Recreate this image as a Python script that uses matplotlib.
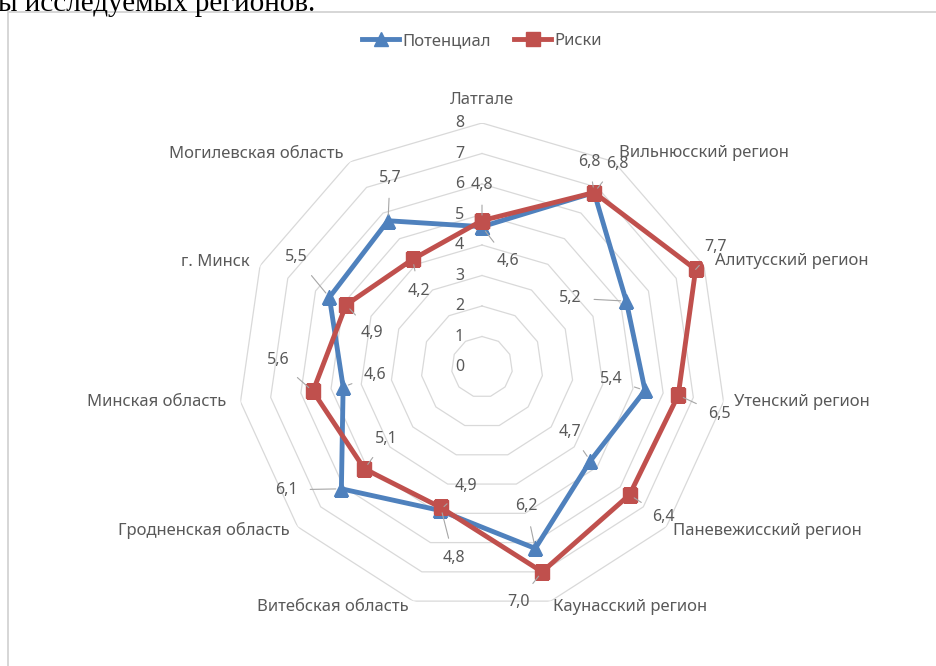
import numpy as np
import matplotlib
matplotlib.use("Agg")
import matplotlib.pyplot as plt
from matplotlib.patches import Rectangle
from matplotlib.lines import Line2D

plt.rcParams['font.family'] = ['Noto Sans', 'DejaVu Sans']

categories = ["Латгале", "Вильнюсский регион", "Алитусский регион", "Утенский регион",
              "Паневежисский регион", "Каунасский регион", "Витебская область",
              "Гродненская область", "Минская область", "г. Минск", "Могилевская область"]
potential = [4.6, 6.8, 5.2, 5.4, 4.7, 6.2, 4.9, 6.1, 4.6, 5.5, 5.7]
risks = [4.8, 6.8, 7.7, 6.5, 6.4, 7.0, 4.8, 5.1, 5.6, 4.9, 4.2]
levels = [0, 1, 2, 3, 4, 5, 6, 7, 8]

BLUE = '#4F81BD'
RED = '#C0504D'
TXT = '#595959'
GRID = '#d9d9d9'

# label offsets in pixels (dx, dy with y down)
pot_off = [(26, 34), (23, -29), (-56, -3), (-34, -11), (-20, -29), (-9, -42),
           (26, -24), (-55, 1), (32, -12), (-33, -40), (2, -43)]
risk_off = [(0, -36), (-5, -31), (20, -22), (41, 19), (34, 22), (-24, 30),
            (13, 51), (22, -30), (-35, -31), (26, 28), (6, 32)]
cat_off = [(0, -23, 'center'), (5, -9, 'left'), (11, -5, 'left'), (10, 0, 'left'),
           (7, 4, 'left'), (2, 6, 'left'), (-5, 6, 'right'), (-8, 4, 'right'),
           (-14, 0, 'right'), (-10, -4, 'right'), (-7, -8, 'right')]

W, H = 937, 666
fig = plt.figure(figsize=(W / 100, H / 100), dpi=100)
cx, cy, R = 482, 367, 244
ax = fig.add_axes([(cx - R) / W, (H - cy - R) / H, 2 * R / W, 2 * R / H], projection='polar')
ax.set_theta_zero_location('N')
ax.set_theta_direction(-1)
ax.set_ylim(0, 8)
ax.grid(False)
ax.set_xticks([])
ax.set_yticks([])
ax.spines['polar'].set_visible(False)
ax.patch.set_alpha(0)

n = len(categories)
theta = np.arange(n) * 2 * np.pi / n
tc = np.append(theta, theta[0])

# polygon gridlines
for lv in levels[1:]:
    ax.plot(tc, [lv] * (n + 1), color=GRID, lw=0.9, zorder=1)

px2pt = 0.72
for lv in levels:
    ax.annotate(str(lv), (0, lv), xytext=(-18 * px2pt, 0), textcoords='offset points',
                ha='right', va='center', fontsize=11.5, color=TXT)

ax.plot(tc, potential + [potential[0]], color=BLUE, lw=3.5, marker='^', ms=10, zorder=3)
ax.plot(tc, risks + [risks[0]], color=RED, lw=3.5, marker='s', ms=9.5, zorder=4)


def fmt(v):
    return f"{v:.1f}".replace('.', ',')


for vals, offs in ((potential, pot_off), (risks, risk_off)):
    for t, v, (dx, dy) in zip(theta, vals, offs):
        ax.annotate(fmt(v), (t, v), xytext=(dx * px2pt, -dy * px2pt), textcoords='offset points',
                    ha='center', va='center', fontsize=11.5, color=TXT,
                    arrowprops=dict(arrowstyle='-', color='#a6a6a6', lw=0.8,
                                    shrinkA=7, shrinkB=4), zorder=5)

for t, name, (dx, dy, ha) in zip(theta, categories, cat_off):
    ax.annotate(name, (t, 8), xytext=(dx * px2pt, -dy * px2pt), textcoords='offset points',
                ha=ha, va='center', fontsize=12, color=TXT, annotation_clip=False)

handles = [Line2D([], [], color=BLUE, lw=3.5, marker='^', ms=10),
           Line2D([], [], color=RED, lw=3.5, marker='s', ms=9.5)]
leg = fig.legend(handles, ["Потенциал", "Риски"], loc='center', ncol=2,
                 bbox_to_anchor=(cx / W, 1 - 41 / H), frameon=False, fontsize=12,
                 handlelength=2.2, columnspacing=1.4, handletextpad=0.2)
for t in leg.get_texts():
    t.set_color(TXT)

# chart frame and the cropped line of document text above it
fig.patches.append(Rectangle((8 / W, -0.1), 1.2, 1 - 12 / H + 0.1, fill=False,
                             ec='#d0d0d0', lw=1.2, transform=fig.transFigure))
fig.text(-2 / W, 1 - 11 / H, "ы исследуемых регионов.", fontsize=21,
         family='Liberation Serif', va='baseline', ha='left', color='black')

fig.savefig('out.png', dpi=100)
